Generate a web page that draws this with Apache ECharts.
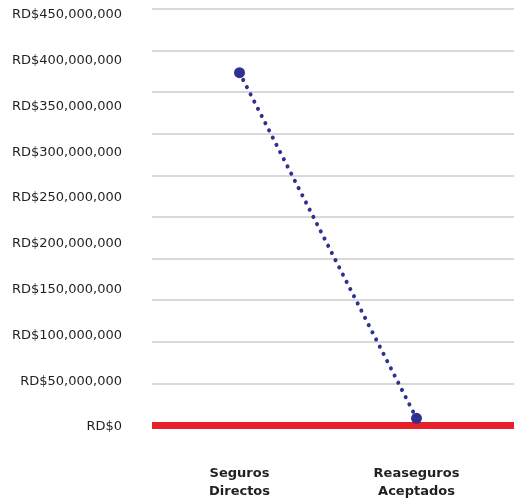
<!DOCTYPE html>
<html>
<head>
<meta charset="utf-8">
<script src="https://cdn.jsdelivr.net/npm/echarts@6/dist/echarts.min.js"></script>
<style>html,body{margin:0;padding:0;background:#fff}#c{width:514px;height:498px}</style>
</head>
<body>
<div id="c"></div>
<script>
var categories = ['Seguros\nDirectos', 'Reaseguros\nAceptados'];
var values = [387000000, 9500000];
var yMin = 0, yMax = 450000000, yInterval = 50000000;

var hiddenLine = {show: false, lineStyle: {color: 'rgba(0,0,0,0)', width: 0}};
var hiddenTick = {show: false, lineStyle: {color: 'rgba(0,0,0,0)', width: 0}};

var chart = echarts.init(document.getElementById('c'), null, {renderer: 'canvas'});
chart.setOption({
  animation: false,
  backgroundColor: '#ffffff',
  grid: [
    {left: 152, right: 0, top: 9, bottom: 73, show: false, containLabel: false, outerBoundsMode: 'none'},
    {left: 151, right: 9, top: 15, bottom: 71, show: false, containLabel: false, outerBoundsMode: 'none'}
  ],
  xAxis: [
    {gridIndex: 0, type: 'category', data: ['', ''], boundaryGap: true,
     axisLabel: {show: false}, axisTick: hiddenTick, splitLine: {show: false}, splitArea: {show: false},
     axisLine: {show: true, onZero: false, lineStyle: {color: '#e8202a', width: 7, cap: 'butt'}}},
    {gridIndex: 1, type: 'category', data: categories, boundaryGap: true,
     axisLine: hiddenLine, axisTick: hiddenTick, splitLine: {show: false}, splitArea: {show: false},
     axisLabel: {margin: 38, fontFamily: 'DejaVu Sans', fontSize: 13, fontWeight: 'bold', color: '#231f20', lineHeight: 18, interval: 0}}
  ],
  yAxis: [
    {gridIndex: 0, type: 'value', min: 0, max: 10, interval: 1, axisLabel: {show: false}, axisTick: hiddenTick,
     axisLine: hiddenLine, splitArea: {show: false}, minorTick: {show: false}, minorSplitLine: {show: false},
     splitLine: {show: true, lineStyle: {color: '#d9d9d9', width: 2, cap: 'butt'}}},
    {gridIndex: 1, type: 'value', min: yMin, max: yMax, interval: yInterval,
     axisLine: hiddenLine, axisTick: hiddenTick, splitLine: {show: false}, splitArea: {show: false},
     axisLabel: {margin: 29, fontFamily: 'DejaVu Sans', fontSize: 13, color: '#231f20',
       formatter: function (v) { return 'RD$' + v.toLocaleString('en-US'); }}}
  ],
  series: [{
    type: 'line',
    xAxisIndex: 1, yAxisIndex: 1,
    data: values,
    z: 10,
    symbol: 'circle',
    symbolSize: 11,
    itemStyle: {color: '#2e3192'},
    lineStyle: {color: '#2e3192', width: 4, type: [0.1, 8], cap: 'round'}
  }]
});
</script>
</body>
</html>
